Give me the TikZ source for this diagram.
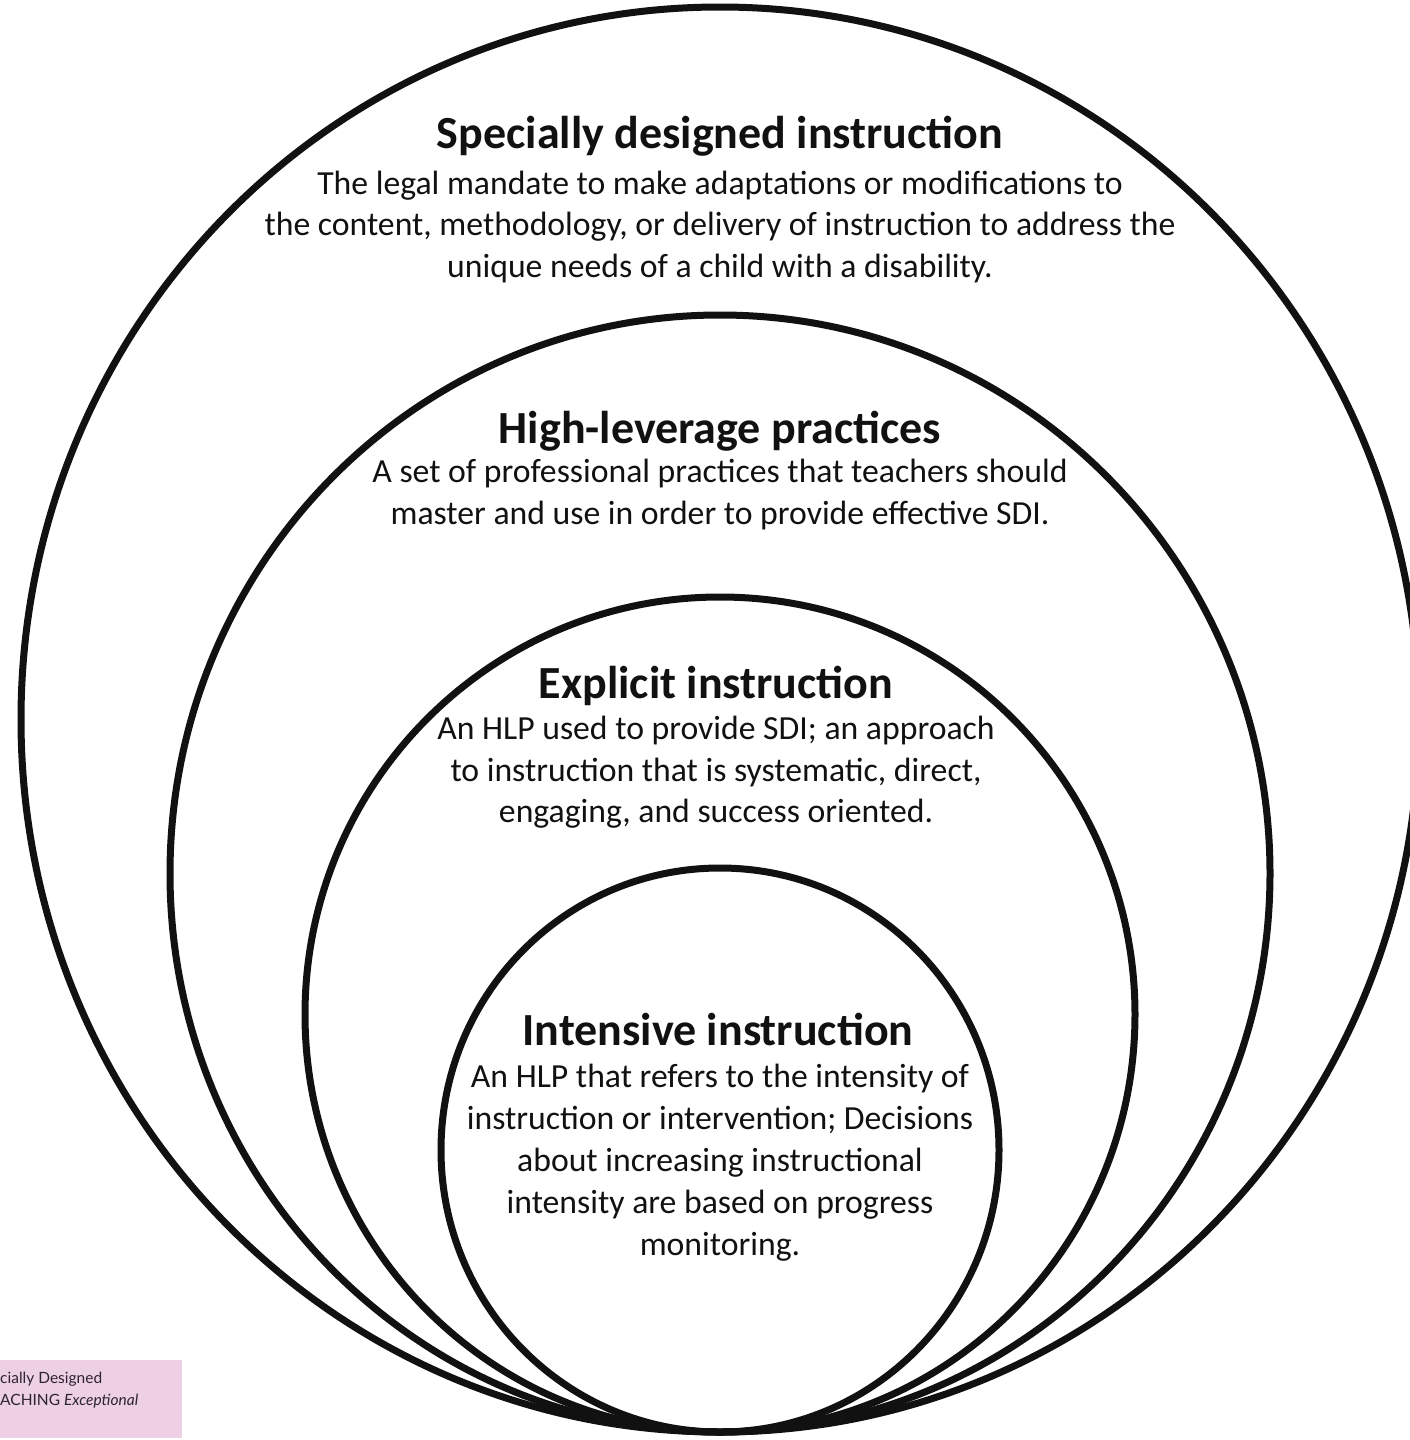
\documentclass[tikz,border=0pt]{standalone}
\usepackage{fontspec}
\setmainfont{Carlito}
\newfontfamily\boxfont{Lato}
\definecolor{ink}{RGB}{17,17,17}
\definecolor{pinkbox}{RGB}{237,208,227}
\definecolor{boxtext}{RGB}{45,35,50}
\begin{document}
\begin{tikzpicture}[x=1pt,y=-1pt,
  ring/.style={draw=ink,line width=7pt},
  ttl/.style={anchor=base,inner sep=0pt,font=\fontsize{46}{50}\selectfont\bfseries,text=ink},
  bdy/.style={anchor=base,inner sep=0pt,font=\fontsize{33.7}{41.5}\selectfont,text=ink},
  tagtext/.style={anchor=base west,inner sep=0pt,font=\boxfont\fontsize{15.5}{20}\selectfont,text=boxtext}]
\useasboundingbox (0,0) rectangle (1410,1440);
\fill[white] (0,0) rectangle (1410,1440);
% rings
\draw[ring] (720,719.5) ellipse [x radius=699pt, y radius=712.5pt];
\draw[ring] (720,873.5) ellipse [x radius=550pt, y radius=558.5pt];
\draw[ring] (720,1014.5) ellipse [x radius=415pt, y radius=417.5pt];
\draw[ring] (720,1150) ellipse [x radius=279pt, y radius=282pt];
% ring 1
\node[ttl] (t1) at (720,148) {Specially designed instruction};
\node[bdy] (b1a) at (720,194) {The legal mandate to make adaptations or modifications to};
\node[bdy] (b1b) at (720,235.5) {the content, methodology, or delivery of instruction to address the};
\node[bdy] (b1c) at (720,277) {unique needs of a child with a disability.};
% ring 2
\node[ttl] (t2) at (720,443) {High-leverage practices};
\node[bdy] (b2a) at (720,482) {A set of professional practices that teachers should};
\node[bdy] (b2b) at (720,524) {master and use in order to provide effective SDI.};
% ring 3
\node[ttl] (t3) at (716,698) {Explicit instruction};
\node[bdy] (b3a) at (716,739) {An HLP used to provide SDI; an approach};
\node[bdy] (b3b) at (716,781) {to instruction that is systematic, direct,};
\node[bdy] (b3c) at (716,822) {engaging, and success oriented.};
% ring 4
\node[ttl] (t4) at (718,1045) {Intensive instruction};
\node[bdy] (b4a) at (720,1087) {An HLP that refers to the intensity of};
\node[bdy] (b4b) at (720,1129) {instruction or intervention; Decisions};
\node[bdy] (b4c) at (720,1171) {about increasing instructional};
\node[bdy] (b4d) at (720,1213) {intensity are based on progress};
\node[bdy] (b4e) at (720,1255) {monitoring.};
% source tag
\fill[pinkbox] (0,1360) rectangle (182,1438);
\node[tagtext] (s1) at (0,1383) {cially Designed};
\node[tagtext] (s2) at (0,1405) {ACHING \itshape Exceptional};
\end{tikzpicture}
\end{document}
